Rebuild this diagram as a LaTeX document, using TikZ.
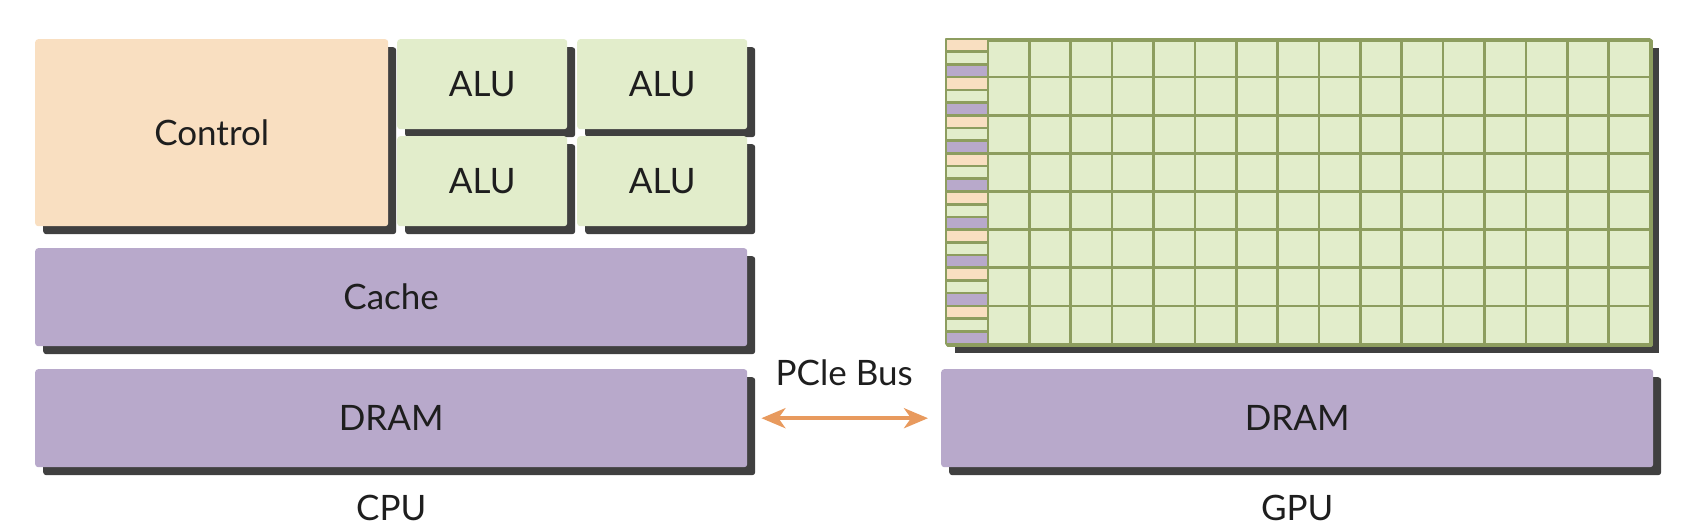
\documentclass[tikz,border=0pt]{standalone}
\usepackage{fontspec}
\setmainfont{Lato}
\usetikzlibrary{positioning,shadows,arrows.meta}

\definecolor{ctrlorange}{HTML}{F9DFC1}
\definecolor{alugreen}{HTML}{E2EDCB}
\definecolor{cachepurple}{HTML}{B8A9CB}
\definecolor{shadowgray}{HTML}{404040}
\definecolor{gridolive}{HTML}{8D9D5F}
\definecolor{busorange}{HTML}{E89A5E}
\definecolor{inkblack}{HTML}{1E1E1E}

\tikzset{
	unit/.style={anchor=north west,inner sep=0pt,rounded corners=3pt,text=inkblack,font=\fontsize{35}{42}\selectfont,
		drop shadow={shadow xshift=8pt,shadow yshift=-8pt,fill=shadowgray,opacity=1}},
	ctrlbox/.style={unit,fill=ctrlorange,minimum width=353pt,minimum height=187pt},
	alubox/.style={unit,fill=alugreen,minimum width=170pt,minimum height=90pt},
	membox/.style={unit,fill=cachepurple,minimum width=712pt,minimum height=98pt},
	corebox/.style={unit,rounded corners=0pt,fill=alugreen,draw=gridolive,line width=2.6pt,
		minimum width=704pt,minimum height=305pt},
	corecell/.style={draw=gridolive,line width=2.6pt},
	partlabel/.style={inner sep=0pt,text=inkblack,font=\fontsize{35}{42}\selectfont},
	busline/.style={busorange,line width=4pt,{Stealth[length=24pt,width=20pt,inset=7pt]}-{Stealth[length=24pt,width=20pt,inset=7pt]},
		shorten <=14pt,shorten >=13pt}
}

\begin{document}
\begin{tikzpicture}
			[line cap=round,line join=round,x=1pt,y=-1pt]
			\useasboundingbox (0,0) rectangle (1690,532);
			% CPU
			\node[ctrlbox] (control) at (35,39) {Control};
			\node[alubox] (alu1) at (397,39) {ALU};
			\node[alubox] (alu2) at (577,39) {ALU};
			\node[alubox] (alu3) at (397,136) {ALU};
			\node[alubox] (alu4) at (577,136) {ALU};
			\node[membox] (cache) at (35,248) {Cache};
			\node[membox] (cpudram) at (35,369) {DRAM};
			% GPU
			\node[corebox] (cores) at (946,39) {};
			\foreach \i in {0,...,23} {
				\pgfmathtruncatemacro\kind{mod(\i,3)}
				\ifcase\kind \def\cellfill{ctrlorange}\or \def\cellfill{alugreen}\or \def\cellfill{cachepurple}\fi
				\draw[corecell,fill=\cellfill] (946,{39+\i*12.708}) rectangle +(42,12.708);
			}
			\foreach \c in {0,...,15}
				\foreach \r in {0,...,7}
					\draw[corecell] ({988+\c*41.375},{39+\r*38.125}) rectangle +(41.375,38.125);
			\node[membox] (gpudram) at (941,369) {DRAM};
			% bus and labels
			\draw[busline] (cpudram) -- node[partlabel,above=30pt] {PCle Bus} (gpudram);
			\node[partlabel,below=28pt of cpudram] (cpu) {CPU};
			\node[partlabel,below=28pt of gpudram] (gpu) {GPU};
		\end{tikzpicture}
\end{document}
